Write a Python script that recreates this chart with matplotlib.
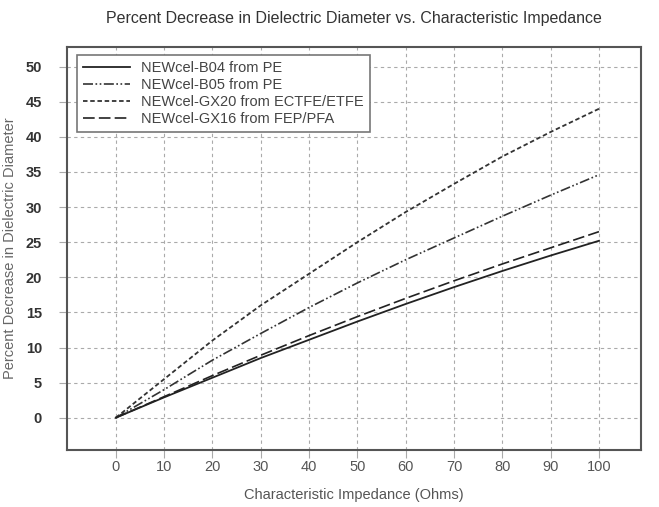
import matplotlib
matplotlib.use("Agg")
import matplotlib.pyplot as plt

# impedance (ohms)
impedance = [0, 10, 20, 30, 40, 50, 60, 70, 80, 90, 100]

# percent decrease in dielectric diameter
b04 = [0, 2.9, 5.7, 8.5, 11.1, 13.7, 16.2, 18.6, 20.9, 23.1, 25.2]
b05 = [0, 4.0, 8.2, 12.0, 15.7, 19.2, 22.5, 25.6, 28.7, 31.7, 34.6]
gx20 = [0, 5.5, 11.0, 16.0, 20.5, 25.0, 29.3, 33.3, 37.2, 40.7, 44.0]
gx16 = [0, 3.0, 6.0, 8.9, 11.7, 14.4, 17.0, 19.5, 21.9, 24.2, 26.5]

labels = ["NEWcel-B04 from PE", "NEWcel-B05 from PE",
          "NEWcel-GX20 from ECTFE/ETFE", "NEWcel-GX16 from FEP/PFA"]

plt.rcParams["font.family"] = ["Liberation Sans", "DejaVu Sans"]

fig = plt.figure(figsize=(6.59, 5.07), dpi=100)
ax = fig.add_axes([0.1017, 0.1124, 0.871, 0.7949])

ax.plot(impedance, b04, color="#222222", lw=1.3, ls="-", label=labels[0])
ax.plot(impedance, b05, color="#333333", lw=1.2, ls=(0, (6, 1.5, 1, 1.5, 1, 1.5)), label=labels[1])
ax.plot(impedance, gx20, color="#333333", lw=1.3, ls=(0, (2.5, 1.5)), label=labels[2])
ax.plot(impedance, gx16, color="#222222", lw=1.2, ls=(0, (7, 2.5)), label=labels[3])

ax.set_xlim(-10.1, 108.7)
ax.set_ylim(-4.6, 52.8)
ax.set_xticks(range(0, 101, 10))
ax.set_yticks(range(0, 51, 5))

ax.grid(True, color="#aaaaaa", ls=(0, (3, 3)), lw=0.8)
ax.tick_params(axis="both", length=6, width=0.8, color="#aaaaaa", direction="out")
ax.tick_params(axis="x", labelsize=10.5, labelcolor="#555555", pad=1)
ax.tick_params(axis="y", labelsize=10.5, labelcolor="#333333", pad=12)
for t in ax.get_yticklabels():
    t.set_fontweight("bold")

for s in ax.spines.values():
    s.set_color("#555555")
    s.set_linewidth(1.5)

ax.set_title("Percent Decrease in Dielectric Diameter vs. Characteristic Impedance",
             fontsize=11.5, color="#333333", pad=17)
ax.set_xlabel("Characteristic Impedance (Ohms)", fontsize=10.5, color="#555555", labelpad=10)
ax.set_ylabel("Percent Decrease in Dielectric Diameter", fontsize=10.5, color="#666666", labelpad=6)

leg = ax.legend(loc="upper left", fontsize=10.5, frameon=True, fancybox=False,
                handlelength=3.2, borderpad=0.4, labelspacing=0.2,
                bbox_to_anchor=(0.005, 0.997))
leg.get_frame().set_edgecolor("#777777")
leg.get_frame().set_linewidth(1.2)
leg.get_frame().set_alpha(1)
for t in leg.get_texts():
    t.set_color("#444444")

fig.savefig("out.png", dpi=100)
